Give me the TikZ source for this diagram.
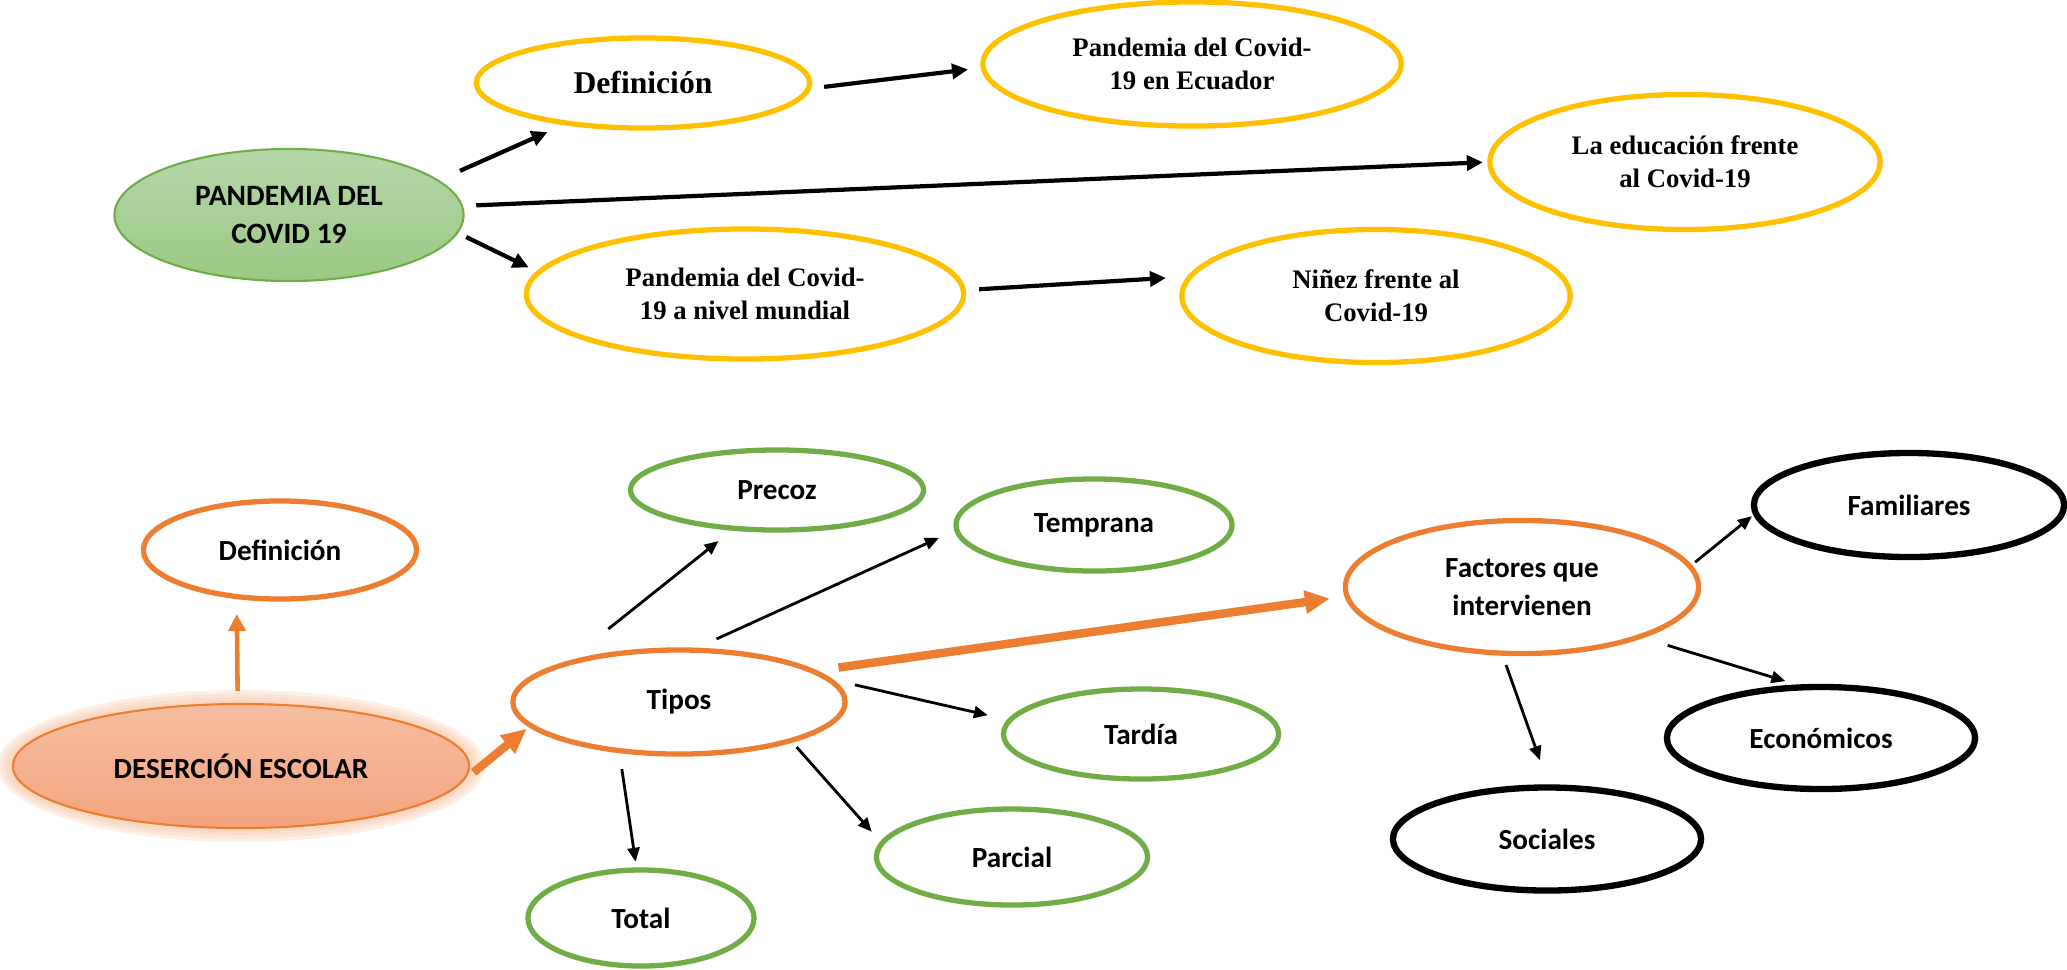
\documentclass[tikz,border=0pt]{standalone}
\usepackage{fontspec}
\newfontfamily\tnrfont{Liberation Serif}
\newfontfamily\calfont{Carlito}
\usetikzlibrary{shapes.geometric,arrows.meta}
\definecolor{amarillo}{HTML}{FFC000}
\definecolor{naranja}{HTML}{ED7D31}
\definecolor{verde}{HTML}{70AD47}
\definecolor{verdeA}{HTML}{B5D7A8}
\definecolor{verdeB}{HTML}{9BC985}
\definecolor{salmonA}{HTML}{F5BEA1}
\definecolor{salmonB}{HTML}{F4A47F}

\begin{document}
\begin{tikzpicture}[x=0.01cm,y=-0.01cm,
	elip/.style={ellipse,draw,line width=1.5pt,inner sep=0pt,outer sep=0pt,align=center},
	amar/.style={elip,draw=amarillo,font={\tnrfont\bfseries\fontsize{7.6pt}{9.4pt}\selectfont}},
	nar/.style={elip,draw=naranja,font={\calfont\bfseries\fontsize{8.3pt}{11pt}\selectfont}},
	ver/.style={nar,draw=verde},
	neg/.style={nar,draw=black,line width=1.8pt},
	flecha/.style={-{Triangle[length=0.16cm,width=0.15cm]},line width=1.2pt},
	fina/.style={-{Triangle[length=0.14cm,width=0.12cm]},line width=0.8pt},
	gruesa/.style={-{Triangle[length=0.25cm,width=0.22cm]},line width=2.4pt,naranja}]
	\useasboundingbox (0,0) rectangle (2067,969);
	
	% pandemia
	\node[elip,draw=verde,line width=0.6pt,top color=verdeA,bottom color=verdeB,
		font={\calfont\bfseries\fontsize{8.4pt}{10.9pt}\selectfont},
		minimum width=3.49cm,minimum height=1.32cm] (pand) at (289,215) {PANDEMIA DEL\\COVID 19};
	\node[amar,minimum width=3.33cm,minimum height=0.90cm,
		font={\tnrfont\bfseries\fontsize{9pt}{11pt}\selectfont}] (defa) at (643,83) {Definición};
	\node[amar,minimum width=4.18cm,minimum height=1.24cm] (ecu) at (1192,64) {Pandemia del Covid-\\19 en Ecuador};
	\node[amar,minimum width=3.90cm,minimum height=1.35cm] (edu) at (1685,162) {La educación frente\\al Covid-19};
	\node[amar,minimum width=4.37cm,minimum height=1.30cm] (mund) at (745,294) {Pandemia del Covid-\\19 a nivel mundial};
	\node[amar,minimum width=3.88cm,minimum height=1.33cm] (nin) at (1376,296) {Niñez frente al\\Covid-19};
	
	\draw[flecha,shorten <=0.24cm,shorten >=0.218cm] (pand.13) -- (defa.208.2);
	\draw[flecha,shorten <=0.143cm,shorten >=0.07cm] (pand.3.1) -- (edu.180);
	\draw[flecha,shorten <=0.10cm,shorten >=0.113cm] (pand.354.5) -- (mund.174.3);
	\draw[flecha,shorten <=0.16cm,shorten >=0.153cm] (defa.358.8) -- (ecu.181.8);
	\draw[flecha,shorten <=0.159cm,shorten >=0.245cm] (mund.1.1) -- (nin.174.4);
	
	% desercion
	\foreach \g in {1,...,4}
		\fill[naranja!40,opacity=0.3] (241,766) ellipse [x radius={2.28cm+\g*0.04cm},y radius={0.62cm+\g*0.035cm}];
	\node[nar,line width=0.6pt,top color=salmonA,bottom color=salmonB,
		minimum width=4.56cm,minimum height=1.24cm] (des) at (241,766) {DESERCIÓN ESCOLAR};
	\node[nar,minimum width=2.73cm,minimum height=0.98cm] (defb) at (280,550) {Definición};
	\node[nar,minimum width=3.32cm,minimum height=1.04cm] (tip) at (679,702) {Tipos};
	\node[nar,minimum width=3.53cm,minimum height=1.33cm] (fac) at (1522,587) {Factores que\\intervienen};
	\node[ver,minimum width=2.93cm,minimum height=0.80cm] (pre) at (777,490) {Precoz};
	\node[ver,minimum width=2.76cm,minimum height=0.92cm] (tem) at (1094,525) {Temprana};
	\node[ver,minimum width=2.75cm,minimum height=0.90cm] (tar) at (1141,734) {Tardía};
	\node[ver,minimum width=2.71cm,minimum height=0.96cm] (par) at (1012,857) {Parcial};
	\node[ver,minimum width=2.26cm,minimum height=0.96cm] (tot) at (641,918) {Total};
	\node[neg,minimum width=3.10cm,minimum height=1.04cm] (fam) at (1909,505) {Familiares};
	\node[neg,minimum width=3.08cm,minimum height=1.02cm] (eco) at (1821,738) {Económicos};
	\node[neg,minimum width=3.08cm,minimum height=1.03cm] (soc) at (1547,839) {Sociales};
	
	\draw[-{Triangle[length=0.17cm,width=0.17cm]},line width=1.3pt,naranja,shorten <=0.13cm,shorten >=0.175cm] (des.93.7) -- (defb.227.2);
	\draw[gruesa,shorten <=0.20cm,shorten >=0.052cm] (des.355.8) -- (tip.189.6);
	\draw[gruesa,shorten <=0.26cm,shorten >=0.173cm] (tip.13.4) -- (fac.183.8);
	\draw[fina,shorten <=0.57cm,shorten >=0.204cm] (tip.162.7) -- (pre.222.4);
	\draw[fina,shorten <=0.27cm,shorten >=0.195cm] (tip.76.6) -- (tem.182.1);
	\draw[fina,shorten <=0.285cm,shorten >=0.227cm] (tip.9.5) -- (tar.174.5);
	\draw[fina,shorten <=0.088cm,shorten >=0.154cm] (tip.341.2) -- (par.174.6);
	\draw[fina,shorten <=0.187cm,shorten >=0.083cm] (tip.219.1) -- (tot.95.9);
	\draw[fina,shorten <=0.067cm,shorten >=0.05cm] (fac.7.6) -- (fam.183.8);
	\draw[fina,shorten <=0.297cm,shorten >=0.21cm] (fac.337.5) -- (eco.107.3);
	\draw[fina,shorten <=0.126cm,shorten >=0.29cm] (fac.253.9) -- (soc.87.1);
\end{tikzpicture}
\end{document}
